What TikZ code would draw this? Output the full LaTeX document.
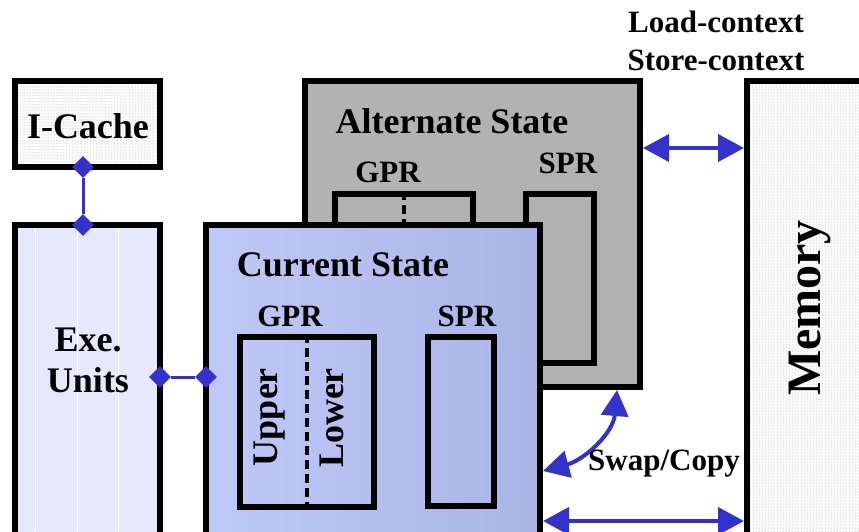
\documentclass[tikz,border=0pt]{standalone}
\usepackage{fontspec}
\setmainfont{Liberation Serif}
\usepackage{tikz}
\usetikzlibrary{arrows.meta,shapes.geometric,patterns,positioning}
\definecolor{linkblue}{RGB}{51,51,204}
\definecolor{altgray}{RGB}{178,178,178}
\definecolor{curlight}{RGB}{192,200,248}
\definecolor{curdark}{RGB}{170,180,230}
\definecolor{exefill}{RGB}{232,232,252}

\begin{document}
\begin{tikzpicture}[x=1pt, y=-1pt, line join=miter, >=Triangle,
    box/.style={draw, line width=6pt, inner sep=0pt},
    lbl/.style={font=\fontsize{36}{40}\selectfont\bfseries, inner sep=0pt},
    small/.style={font=\fontsize{31}{34}\selectfont\bfseries, inner sep=0pt},
    dia/.style={diamond, fill=linkblue, minimum size=22pt, inner sep=0pt},
    link/.style={linkblue, line width=3pt},
    dbl/.style={linkblue, line width=4pt, {Triangle[length=26pt,width=27pt]}-{Triangle[length=26pt,width=27pt]}},
    split/.style={line width=3.5pt, dash pattern=on 9pt off 5pt}]
    \clip (0,0) rectangle (859,531);
    \fill[white] (0,0) rectangle (859,531);

    % cache and execution units
    \node[box, pattern=dots, pattern color=gray!85, minimum width=145pt, minimum height=86pt] (icache) at (87.5,124) {};
    \node[lbl] at (88,126) {I-Cache};
    \node[box, fill=exefill, minimum width=145pt, minimum height=335pt] (exe) at (87.5,392.5) {};
    \foreach \gx in {35,77,118} {\draw[white, line width=1pt] (\gx,228) -- (\gx,531);}
    \node[lbl] at (88,340) {Exe.};
    \node[lbl] at (88,380) {Units};

    % alternate state, behind
    \node[box, fill=altgray, minimum width=335pt, minimum height=306pt] (alt) at (472.5,234) {};
    \node[lbl] at (452,121) {Alternate State};
    \node[box, minimum width=138pt, minimum height=106pt] (altgpr) at (404,247) {};
    \node[box, minimum width=68pt, minimum height=169pt] (altspr) at (560,278.5) {};
    \draw[split] (altgpr.north) -- (altgpr.south);
    \node[small] at (388,172) {GPR};
    \node[small] at (568,163) {SPR};

    % current state, in front
    \node[box, left color=curlight, right color=curdark, minimum width=334pt, minimum height=335pt] (cur) at (373,392.5) {};
    \node[lbl] at (343,265) {Current State};
    \node[box, minimum width=134pt, minimum height=170pt] (gpr) at (307,422) {};
    \node[box, minimum width=66pt, minimum height=169pt] (spr) at (461,421.5) {};
    \draw[split] (gpr.north) -- (gpr.south);
    \node[small] at (290,316) {GPR};
    \node[small] at (467,316) {SPR};
    \node[lbl, rotate=90] at (270,417) {Upper};
    \node[lbl, rotate=90] at (332,418) {Lower};

    % memory
    \node[box, pattern=dots, pattern color=gray!85, minimum width=153pt, minimum height=479pt] (mem) at (823.5,320.5) {};
    \node[font=\fontsize{48}{52}\selectfont\bfseries, inner sep=0pt, rotate=90] at (810,308) {Memory};

    % links
    \node[dia] (ic1) at (83,167) {};
    \node[dia] (ic2) at (83,225) {};
    \draw[link] (ic1) -- (ic2);
    \node[dia] (ex1) at (160,377) {};
    \node[dia] (ex2) at (206,377) {};
    \draw[link] (ex1) -- (ex2);

    % context transfers
    \draw[dbl] (alt.east |- 0,148) -- (mem.west |- 0,148);
    \draw[dbl] (cur.east |- 0,521) -- (mem.west |- 0,521);
    \draw[dbl] (cur.east |- 0,471) to[out=15, in=-95] (617,0 |- alt.south);
    \node[small] at (664,464) {Swap/Copy};
    \node[small] at (716,22) {Load-context};
    \node[small] at (716,60) {Store-context};
\end{tikzpicture}
\end{document}
